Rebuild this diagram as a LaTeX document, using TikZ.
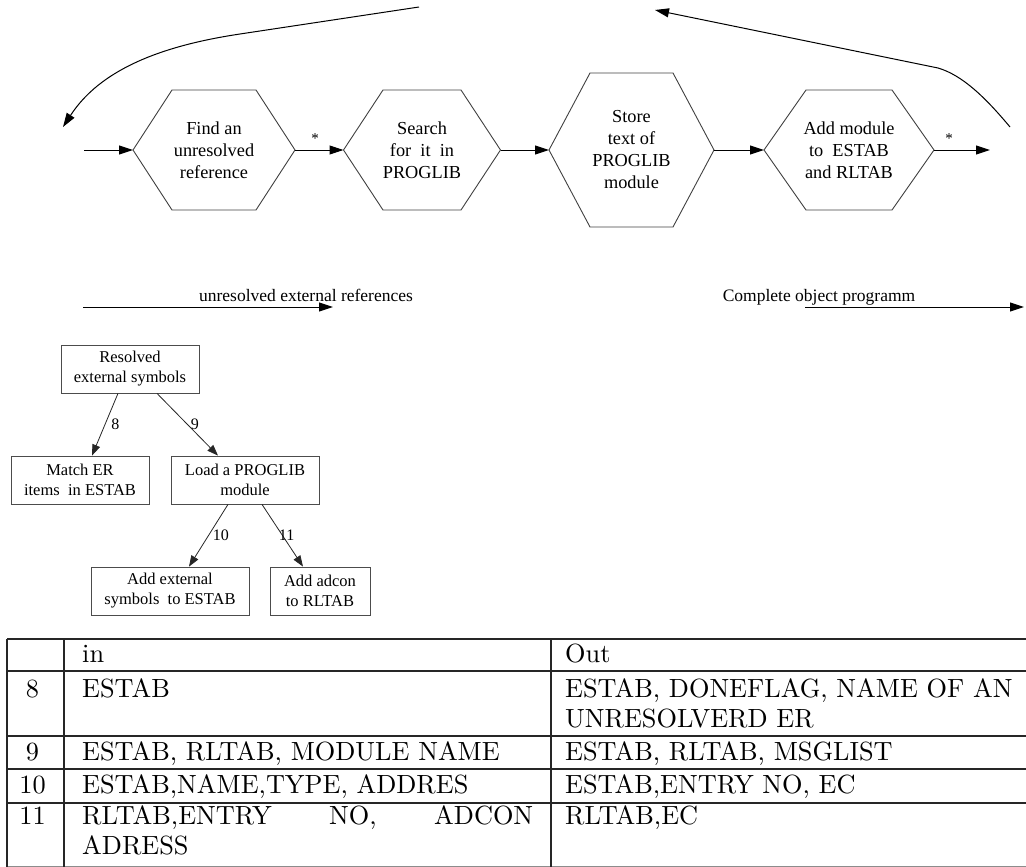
\documentclass[tikz,border=0pt]{standalone}
\usepackage{fontspec}
\newfontfamily\tnr{Liberation Serif}
\newfontfamily\tabfont{lmroman10-regular.otf}
\usetikzlibrary{arrows.meta}

% hexagonal process step: name, centre, top edge width, height, slant, text
\newcommand\hexstep[6]{%
  \node[hexframe, minimum width=#3, minimum height=#4] (#1) at (#2) {};
  \coordinate (#1-l) at ([xshift=-#5]#1.west);
  \coordinate (#1-r) at ([xshift=#5]#1.east);
  \draw[shapeline] (#1.north west) -- (#1.north east) -- (#1-r) -- (#1.south east)
    -- (#1.south west) -- (#1-l) -- cycle;
  \node[hextext] (#1-t) at (#1.center) {#6};
}

\begin{document}
\begin{tikzpicture}[x=1pt,y=-1pt,
  shapeline/.style={draw=black!75, line width=0.9pt, line join=miter},
  hexframe/.style={inner sep=0pt, outer sep=0pt},
  hextext/.style={inner sep=0pt, align=center, font=\tnr\fontsize{18.3}{22}\selectfont},
  flow/.style={draw=black, line width=1pt, -{Triangle[length=14pt,width=9pt]}},
  star/.style={inner sep=0pt, font=\tnr\fontsize{15}{15}\selectfont},
  midlabel/.style={inner sep=0pt, anchor=base, font=\tnr\fontsize{17.5}{20}\selectfont},
  treebox/.style={draw=black!70, line width=0.8pt, inner sep=0pt, minimum height=48pt,
    align=center, font=\tnr\fontsize{16.5}{20}\selectfont},
  treearrow/.style={draw=black!85, line width=0.8pt, -{Triangle[length=11pt,width=8pt]}},
  treelabel/.style={inner sep=0pt, anchor=west, font=\tnr\fontsize{16}{16}\selectfont},
  tabline/.style={draw=black!85, line width=1.1pt},
  tabtext/.style={inner sep=0pt, anchor=base west, font=\tabfont\fontsize{26.3}{30}\selectfont},
  tabnum/.style={inner sep=0pt, anchor=base, font=\tabfont\fontsize{26.3}{30}\selectfont}
]
\useasboundingbox (0,0) rectangle (1026,867);

% ---- process chain -------------------------------------------------
\hexstep{h1}{214,150}{84pt}{120pt}{39pt}{Find an\\unresolved\\reference}
\hexstep{h2}{422,150}{78pt}{120pt}{39.5pt}{Search\\for\ \ it\ \ in\\PROGLIB}
\hexstep{h3}{631.5,150}{83pt}{154pt}{41pt}{Store\\text of\\PROGLIB\\module}
\hexstep{h4}{849,150}{86pt}{120pt}{42pt}{Add module\\to\ \ ESTAB\\and RLTAB}

\coordinate (in) at (84,150);
\coordinate (out) at (990,150);
\draw[flow] (in) -- (h1-l);
\draw[flow] (h1-r) -- (h2-l);
\draw[flow] (h2-r) -- (h3-l);
\draw[flow] (h3-r) -- (h4-l);
\draw[flow] (h4-r) -- (out);
\node[star] (s1) at (315,139) {*};
\node[star] (s2) at (949,139) {*};

% ---- loop-back arcs ---------------------------------------------------
\coordinate (lc-start) at (419,7);
\coordinate (lc-bend) at (240,34);
\coordinate (lc-end) at (63,127);
\draw[flow] (lc-start) -- (lc-bend) .. controls (160,46) and (100,70) .. (lc-end);

\coordinate (rc-start) at (1010,127);
\coordinate (rc-bend) at (938,68);
\coordinate (rc-end) at (655,10);
\draw[flow] (rc-start) .. controls (985,97) and (962,75) .. (rc-bend) -- (rc-end);

% ---- data streams ------------------------------------------------------
\node[midlabel] (unres) at (306,301) {unresolved external references};
\coordinate (unres-s) at (83,307);
\coordinate (unres-e) at (333,307);
\draw[flow] (unres-s) -- (unres-e);

\node[midlabel] (compl) at (819,301) {Complete object programm};
\coordinate (compl-s) at (805,307);
\coordinate (compl-e) at (1024,307);
\draw[flow] (compl-s) -- (compl-e);

% ---- structure chart ---------------------------------------------------
\node[treebox, minimum width=138pt] (root) at (130,369) {Resolved\\external symbols};
\node[treebox, minimum width=138pt] (match) at (80,480) {Match ER\\items\ \ in ESTAB};
\node[treebox, minimum width=148pt] (load) at (245,480) {Load a PROGLIB\\module};
\node[treebox, minimum width=158pt] (addext) at (170,591) {Add external\\symbols\ \ to ESTAB};
\node[treebox, minimum width=100pt] (adcon) at (320,591) {Add adcon\\to RLTAB};

\draw[treearrow] ([xshift=-12pt]root.south) -- node[treelabel, xshift=6pt] (l8) {8} ([xshift=12pt]match.north);
\draw[treearrow] ([xshift=27pt]root.south) -- node[treelabel, xshift=3pt] (l9) {9} ([xshift=-27pt]load.north);
\draw[treearrow] ([xshift=-17pt]load.south) -- node[treelabel, xshift=4pt] (l10) {10} ([xshift=19pt]addext.north);
\draw[treearrow] ([xshift=17pt]load.south) -- node[treelabel, xshift=-4pt] (l11) {11} ([xshift=-17pt]adcon.north);

% ---- interface table ----------------------------------------------------
\foreach \yy in {639,671,736,769,803}
  \draw[tabline] (7,\yy) -- (1026,\yy);
\draw[draw=black!45, line width=1pt] (7,866) -- (1026,866);
\foreach \xx in {7,64,551}
  \draw[tabline] (\xx,639) -- (\xx,867);

\node[tabtext] (c-in) at (82,662) {in};
\node[tabtext] (c-out) at (565,662) {Out};
\node[tabnum] (n8) at (32.5,697) {8};
\node[tabtext] (in8) at (82,697) {ESTAB};
\node[tabtext] (out8a) at (565,697) {ESTAB, DONEFLAG, NAME OF AN};
\node[tabtext] (out8b) at (565,727) {UNRESOLVERD ER};
\node[tabnum] (n9) at (32.5,760) {9};
\node[tabtext] (in9) at (82,760) {ESTAB, RLTAB, MODULE NAME};
\node[tabtext] (out9) at (565,760) {ESTAB, RLTAB, MSGLIST};
\node[tabnum] (n10) at (32.5,793) {10};
\node[tabtext] (in10) at (82,793) {ESTAB,NAME,TYPE, ADDRES};
\node[tabtext] (out10) at (565,793) {ESTAB,ENTRY NO, EC};
\node[tabnum] (n11) at (32.5,824) {11};
\node[tabtext] (in11a) at (82,824) {\hbox to 451pt{RLTAB,ENTRY\hfill NO,\hfill ADCON}};
\node[tabtext] (in11b) at (82,854) {ADRESS};
\node[tabtext] (out11) at (565,824) {RLTAB,EC};
\end{tikzpicture}
\end{document}
